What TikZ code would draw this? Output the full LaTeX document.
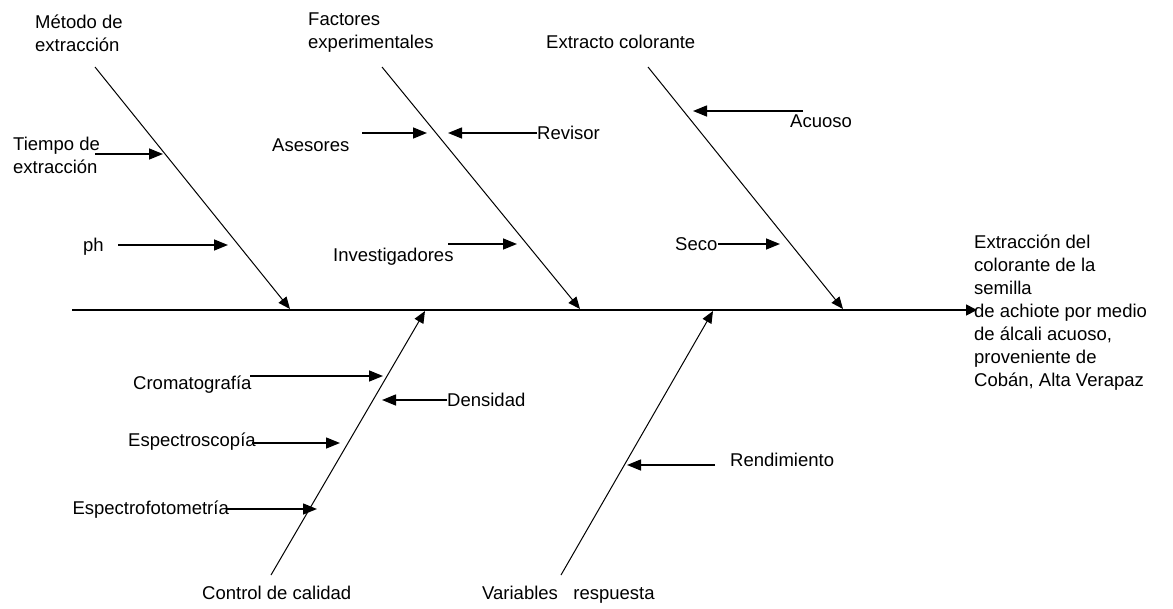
\documentclass[tikz,border=0pt]{standalone}
\usepackage{fontspec}
\setmainfont{Liberation Sans}
\usepackage{tikz}
\usetikzlibrary{arrows.meta}
\tikzset{
    lbl/.style={inner sep=0pt, align=left, font=\fontsize{18.5}{23}\selectfont},
    bone/.style={line width=1pt, -{Triangle[length=12pt, width=10pt]}},
    spine/.style={line width=1.7pt, -{Triangle[length=11pt, width=11pt]}}
}
\newcommand{\causearrow}{\draw[-{Triangle[length=14pt, width=11pt]}, line width=1.5pt]}

\begin{document}
\begin{tikzpicture}[x=1pt, y=-1pt]
    \useasboundingbox (0,0) rectangle (1173,608);

    % Spine and effect
    \coordinate (tail) at (72,310);
    \coordinate (head) at (977,310);
    \draw[spine] (tail) -- (head);
    \node[lbl, anchor=base west] (effect) at (974,386) {Extracción del\\colorante de la\\semilla\\de achiote por medio\\de álcali acuoso,\\proveniente de\\Cobán, Alta Verapaz};

    % Bones
    \coordinate (met) at (95,67);
    \coordinate (met-end) at (290,309);
    \coordinate (fac) at (382,67);
    \coordinate (fac-end) at (580,309);
    \coordinate (ext) at (648,67);
    \coordinate (ext-end) at (843,309);
    \coordinate (con) at (271,575);
    \coordinate (con-end) at (425,311);
    \coordinate (var) at (561,575);
    \coordinate (var-end) at (713,311);

    \draw[bone] (met) -- (met-end);
    \draw[bone] (fac) -- (fac-end);
    \draw[bone] (ext) -- (ext-end);
    \draw[bone] (con) -- (con-end);
    \draw[bone] (var) -- (var-end);

    \node[lbl, anchor=base west] (metodo) at (35,51) {Método de\\extracción};
    \node[lbl, anchor=base west] (factores) at (308,48) {Factores\\experimentales};
    \node[lbl, anchor=base west] (extracto) at (546,48) {Extracto colorante};
    \node[lbl, anchor=base west] (control) at (202,599) {Control de calidad};
    \node[lbl, anchor=base west] (variables) at (482,599) {Variables\ \ \ respuesta};

    % Causes
    \node[lbl, anchor=base west] (tiempo) at (13,173) {Tiempo de\\extracción};
    \node[lbl, anchor=base west] (ph) at (83,251) {ph};
    \node[lbl, anchor=base west] (asesores) at (272,151) {Asesores};
    \node[lbl, anchor=base west] (revisor) at (537,139) {Revisor};
    \node[lbl, anchor=base west] (invest) at (333,261) {Investigadores};
    \node[lbl, anchor=base west] (seco) at (675,250) {Seco};
    \node[lbl, anchor=base west] (acuoso) at (790,127) {Acuoso};
    \node[lbl, anchor=base west] (croma) at (133,389) {Cromatografía};
    \node[lbl, anchor=base west] (densidad) at (447,406) {Densidad};
    \node[lbl, anchor=base west] (espectro) at (128,446) {Espectroscopía};
    \node[lbl, anchor=base east] (fotom) at (229,514) {Espectrofotometría};
    \node[lbl, anchor=base west] (rend) at (730,466) {Rendimiento};

    \coordinate (tiempo-s) at (95,154);
    \coordinate (tiempo-t) at (163,154);
    \coordinate (ph-s) at (118,245);
    \coordinate (ph-t) at (228,245);
    \coordinate (asesores-s) at (362,133);
    \coordinate (asesores-t) at (427,133);
    \coordinate (revisor-s) at (537,133);
    \coordinate (revisor-t) at (448,133);
    \coordinate (invest-s) at (448,244);
    \coordinate (invest-t) at (517,244);
    \coordinate (seco-s) at (718,244);
    \coordinate (seco-t) at (780,244);
    \coordinate (acuoso-s) at (803,111);
    \coordinate (acuoso-t) at (693,111);
    \coordinate (croma-s) at (250,376);
    \coordinate (croma-t) at (383,376);
    \coordinate (densidad-s) at (447,400);
    \coordinate (densidad-t) at (382,400);
    \coordinate (espectro-s) at (252,443);
    \coordinate (espectro-t) at (340,443);
    \coordinate (fotom-s) at (227,509);
    \coordinate (fotom-t) at (317,509);
    \coordinate (rend-s) at (715,465);
    \coordinate (rend-t) at (627,465);

    \causearrow (tiempo-s) -- (tiempo-t);
    \causearrow (ph-s) -- (ph-t);
    \causearrow (asesores-s) -- (asesores-t);
    \causearrow (revisor-s) -- (revisor-t);
    \causearrow (invest-s) -- (invest-t);
    \causearrow (seco-s) -- (seco-t);
    \causearrow (acuoso-s) -- (acuoso-t);
    \causearrow (croma-s) -- (croma-t);
    \causearrow (densidad-s) -- (densidad-t);
    \causearrow (espectro-s) -- (espectro-t);
    \causearrow (fotom-s) -- (fotom-t);
    \causearrow (rend-s) -- (rend-t);
\end{tikzpicture}
\end{document}
